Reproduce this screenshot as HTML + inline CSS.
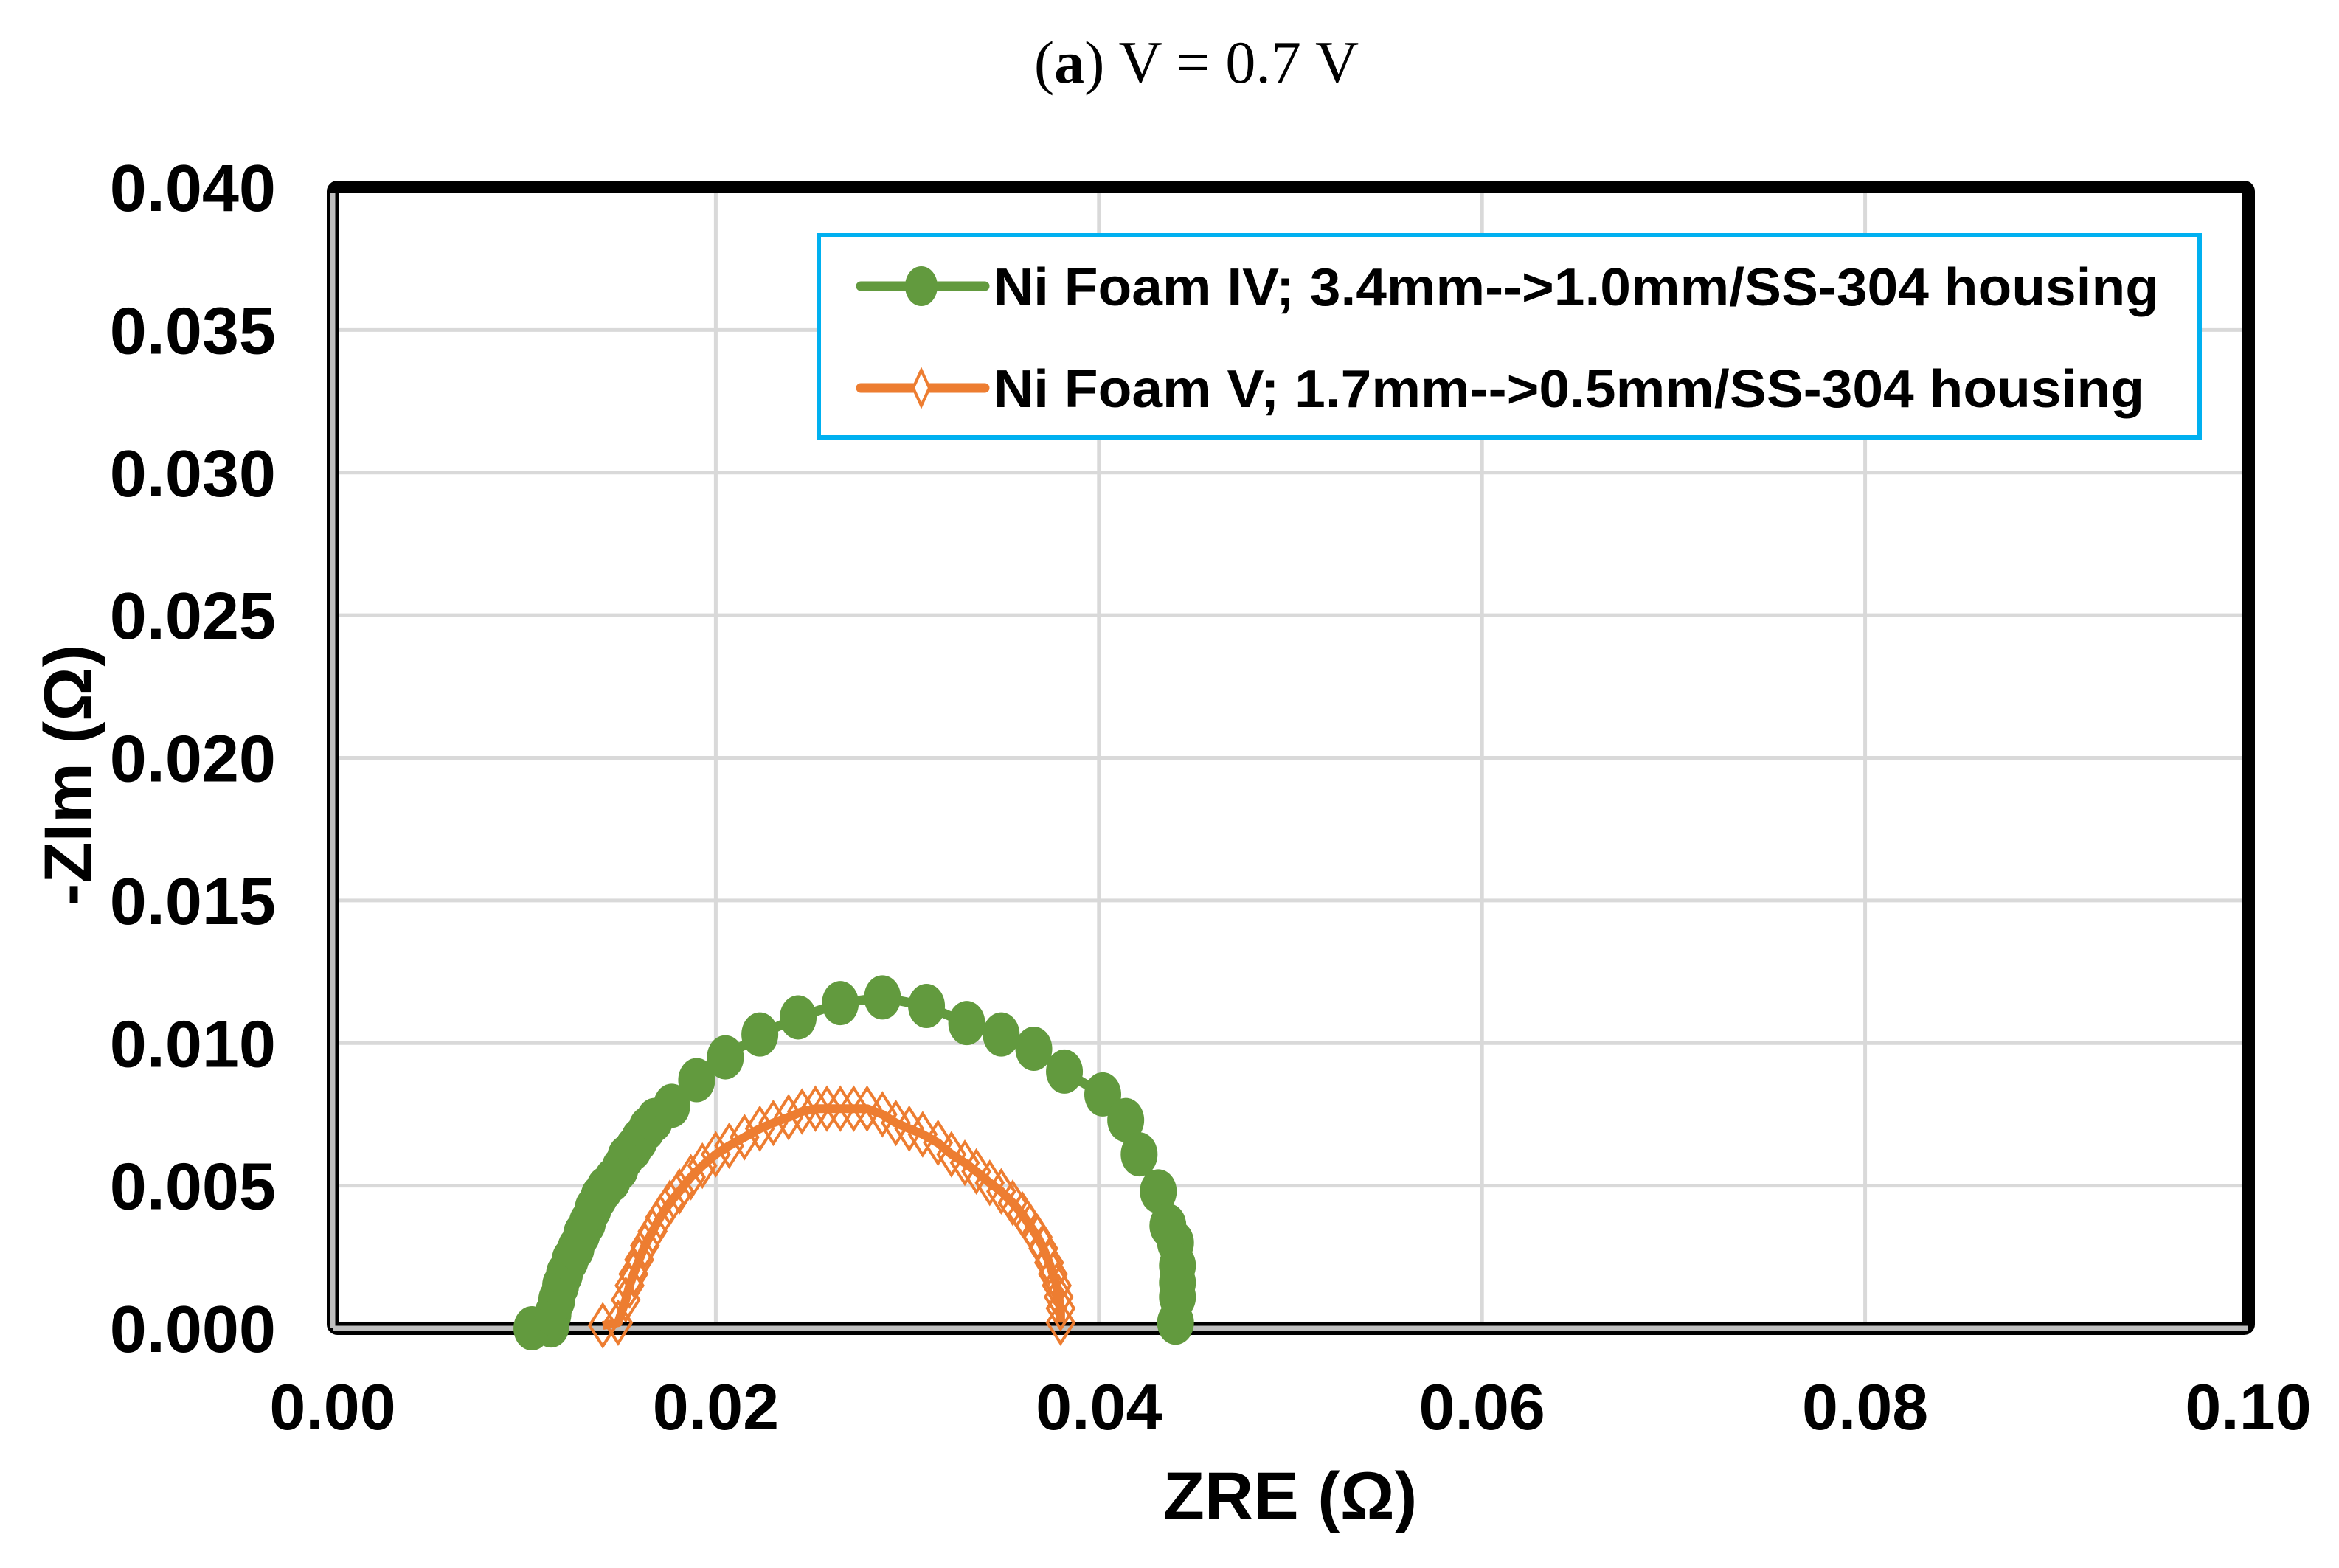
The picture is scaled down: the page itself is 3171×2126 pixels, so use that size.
<!DOCTYPE html>
<html><head><meta charset="utf-8"><style>
html,body{margin:0;padding:0;background:#fff;}
svg{display:block;}
</style></head><body>
<svg id="chart" width="3171" height="2126" viewBox="0 0 3171 2126" xmlns="http://www.w3.org/2000/svg">
<text x="1622" y="112" text-anchor="middle" font-family="Liberation Serif, serif" font-size="82">(<tspan font-weight="bold">a</tspan>) V = 0.7 V</text>
<g id="grid"></g>
<rect x="451.5" y="253.5" width="2597" height="1548" fill="none" stroke="#000" stroke-width="17" rx="6"/>
<line x1="451" y1="262" x2="451" y2="1801" stroke="#bfbfbf" stroke-width="7"/>
<line x1="451" y1="1801" x2="3048" y2="1801" stroke="#bfbfbf" stroke-width="7"/>
<g id="yticks"></g>
<g id="xticks"></g>
<text x="1749" y="2060" text-anchor="middle" font-family="Liberation Sans, sans-serif" font-weight="bold" font-size="92">ZRE (Ω)</text>
<text transform="translate(124,1051) rotate(-90)" text-anchor="middle" font-family="Liberation Sans, sans-serif" font-weight="bold" font-size="92">-ZIm (Ω)</text>
<g id="series"></g>
<g>
<rect x="1110" y="319" width="1872" height="274" fill="#fff" stroke="#00b0f0" stroke-width="6"/>
<g>
<line x1="1167" y1="388" x2="1335" y2="388" stroke="#629a3e" stroke-width="13" stroke-linecap="round"/>
<ellipse cx="1249" cy="388" rx="22" ry="27" fill="#629a3e"/>
<text x="1347" y="414" textLength="1580" lengthAdjust="spacingAndGlyphs" font-family="Liberation Sans, sans-serif" font-weight="bold" font-size="72">Ni Foam IV; 3.4mm--&gt;1.0mm/SS-304 housing</text>
</g>
<g>
<line x1="1167" y1="526" x2="1335" y2="526" stroke="#ed7d31" stroke-width="13" stroke-linecap="round"/>
<polygon points="1249,502 1260,526 1249,550 1238,526" fill="#fff" stroke="#ed7d31" stroke-width="4"/>
<text x="1347" y="552" textLength="1560" lengthAdjust="spacingAndGlyphs" font-family="Liberation Sans, sans-serif" font-weight="bold" font-size="72">Ni Foam V; 1.7mm--&gt;0.5mm/SS-304 housing</text>
</g>
</g>
</svg>
<script>
const xTicks=[0,0.02,0.04,0.06,0.08,0.10];
const xTickLabels=["0.00","0.02","0.04","0.06","0.08","0.10"];
const yTicks=[0,0.005,0.010,0.015,0.020,0.025,0.030,0.035,0.040];
const yTickLabels=["0.000","0.005","0.010","0.015","0.020","0.025","0.030","0.035","0.040"];
const greenX=[0.0104,0.0114,0.0115,0.0117,0.0119,0.0121,0.0124,0.0127,0.0130,0.0133,0.0136,0.0139,0.0142,0.0146,0.0150,0.0153,0.0157,0.0160,0.0164,0.0168,0.0177,0.0190,0.0205,0.0223,0.0243,0.0265,0.0287,0.0310,0.0331,0.0349,0.0366,0.0382,0.0402,0.0414,0.0421,0.0431,0.0436,0.0440,0.0441,0.0441,0.0441,0.0440];
const greenY=[0,0.0001,0.0005,0.0010,0.0015,0.0019,0.0024,0.0028,0.0033,0.0037,0.0042,0.0046,0.0049,0.0052,0.0056,0.0060,0.0063,0.0066,0.0070,0.0073,0.0078,0.0087,0.0095,0.0103,0.0109,0.0114,0.0116,0.0113,0.0107,0.0103,0.0098,0.0090,0.0082,0.0073,0.0061,0.0048,0.0036,0.0030,0.0022,0.0016,0.0011,0.0002];
const orangeX=[0.0141,0.0149,0.0153,0.0155,0.0157,0.0160,0.0163,0.0167,0.0171,0.0176,0.0181,0.0187,0.0193,0.0200,0.0207,0.0215,0.0223,0.0230,0.0238,0.0245,0.0252,0.0258,0.0265,0.0272,0.0279,0.0287,0.0294,0.0301,0.0308,0.0316,0.0323,0.0330,0.0336,0.0343,0.0349,0.0355,0.0360,0.0364,0.0368,0.0371,0.0374,0.0376,0.0378,0.0379,0.0380,0.0380];
const orangeY=[0.0001,0.0002,0.0010,0.0015,0.0019,0.0024,0.0029,0.0034,0.0039,0.0044,0.0048,0.0053,0.0057,0.0061,0.0064,0.0067,0.0070,0.0072,0.0074,0.0076,0.0077,0.0077,0.0077,0.0077,0.0077,0.0075,0.0072,0.0070,0.0068,0.0065,0.0061,0.0058,0.0055,0.0051,0.0048,0.0044,0.0040,0.0036,0.0032,0.0028,0.0023,0.0019,0.0015,0.0011,0.0007,0.0002];

const NS="http://www.w3.org/2000/svg";
const X0=451,X1=3048,Y0=1801,Y1=254;
function sx(v){return X0+(v/0.1)*(X1-X0);}
function sy(v){return Y0-(v/0.04)*(Y0-Y1);}
function mk(tag,attrs,parent){const e=document.createElementNS(NS,tag);for(const k in attrs)e.setAttribute(k,attrs[k]);parent.appendChild(e);return e;}
const grid=document.getElementById('grid');
xTicks.forEach((v,i)=>{if(i===0||i===xTicks.length-1)return;
 const l=mk('line',{x1:sx(v),x2:sx(v),y1:Y1,y2:Y0,stroke:'#d9d9d9','stroke-width':5},grid);
 
 });
yTicks.forEach((v,i)=>{if(i===0||i===yTicks.length-1)return;
 const l=mk('line',{x1:X0,x2:X1,y1:sy(v),y2:sy(v),stroke:'#d9d9d9','stroke-width':5},grid);
 
 });
const yt=document.getElementById('yticks');
yTicks.forEach((v,i)=>{const t=mk('text',{x:374,y:sy(v)+32,'text-anchor':'end','font-family':'Liberation Sans, sans-serif','font-weight':'bold','font-size':90},yt);
 t.textContent=yTickLabels[i];
 
 });
const xt=document.getElementById('xticks');
xTicks.forEach((v,i)=>{const t=mk('text',{x:sx(v),y:1938,'text-anchor':'middle','font-family':'Liberation Sans, sans-serif','font-weight':'bold','font-size':88},xt);
 t.textContent=xTickLabels[i];
 
 });
const ser=document.getElementById('series');
function pts(xs,ys){return xs.map((x,i)=>sx(x)+','+sy(ys[i])).join(' ');}
const gl=mk('polyline',{points:pts(greenX,greenY),fill:'none',stroke:'#629a3e','stroke-width':13,'stroke-linejoin':'round'},ser);


greenX.forEach((x,i)=>{const c=mk('ellipse',{cx:sx(x),cy:sy(greenY[i]),rx:25,ry:30,fill:'#629a3e'},ser);
 
 });
const ol=mk('polyline',{points:pts(orangeX,orangeY),fill:'none',stroke:'#ed7d31','stroke-width':12,'stroke-linejoin':'round'},ser);


orangeX.forEach((x,i)=>{const cx=sx(x),cy=sy(orangeY[i]);
 const p=mk('polygon',{points:`${cx},${cy-28} ${cx+18},${cy} ${cx},${cy+28} ${cx-18},${cy}`,fill:'none',stroke:'#ed7d31','stroke-width':4},ser);
 
 });
</script>
</body></html>
